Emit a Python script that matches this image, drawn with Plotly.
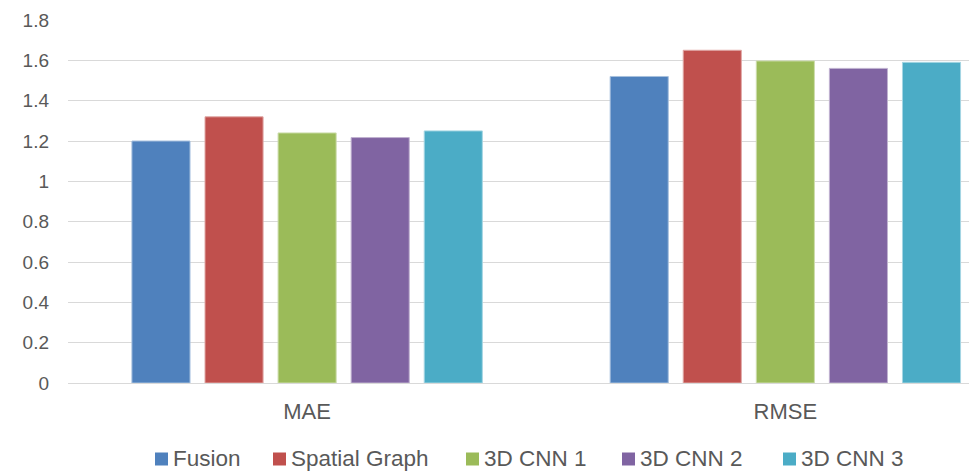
import plotly.graph_objects as go

metrics = ["MAE", "RMSE"]
series_names = ["Fusion", "Spatial Graph", "3D CNN 1", "3D CNN 2", "3D CNN 3"]
fusion = [1.20, 1.52]
spatial_graph = [1.32, 1.65]
cnn_1 = [1.24, 1.597]
cnn_2 = [1.217, 1.56]
cnn_3 = [1.25, 1.59]
y_ticks = [0, 0.2, 0.4, 0.6, 0.8, 1, 1.2, 1.4, 1.6, 1.8]
y_tick_labels = ["0", "0.2", "0.4", "0.6", "0.8", "1", "1.2", "1.4", "1.6", "1.8"]

colors = ["#4F81BD", "#C0504D", "#9BBB59", "#8064A2", "#4BACC6"]
outlines = ["#A7C0DE", "#E0A8A6", "#CDDDAC", "#C0B2D1", "#A5D6E3"]
values = [fusion, spatial_graph, cnn_1, cnn_2, cnn_3]

W, H = 969, 473
ML, MR, MT, MB = 68, 0, 20, 90
font = "Liberation Sans, Arial, sans-serif"
text_color = "#595959"

fig = go.Figure()
for name, vals, c, oc in zip(series_names, values, colors, outlines):
    fig.add_trace(go.Bar(
        x=metrics, y=vals, name=name,
        marker=dict(color=c, line=dict(color=oc, width=1)),
    ))

# Legend row drawn below the plot: a colour swatch followed by its label
def px_x(p):
    return (p - ML) / (W - ML - MR)

def px_y(p):
    return (H - MB - p) / (H - MT - MB)

swatch_left = [155, 273, 466, 622, 783]
swatch = 13
swatch_mid = 459
shapes = []
annotations = []
for name, c, left in zip(series_names, colors, swatch_left):
    shapes.append(dict(
        type="rect", xref="paper", yref="paper",
        x0=px_x(left), x1=px_x(left + swatch),
        y0=px_y(swatch_mid + swatch / 2), y1=px_y(swatch_mid - swatch / 2),
        fillcolor=c, line=dict(width=0),
    ))
    annotations.append(dict(
        text=name, xref="paper", yref="paper",
        x=px_x(left + swatch + 3), y=px_y(H),
        xanchor="left", yanchor="bottom", showarrow=False,
        font=dict(family=font, size=22.5, color=text_color),
    ))

fig.update_layout(
    width=W, height=H,
    margin=dict(l=ML, r=MR, t=MT, b=MB, autoexpand=False),
    paper_bgcolor="white", plot_bgcolor="white",
    barmode="group", bargap=0.236, bargroupgap=0.205,
    font=dict(family=font, size=19, color=text_color),
    showlegend=False,
    shapes=shapes,
    annotations=annotations,
    xaxis=dict(
        type="category", range=[-0.5, 1.384],
        showgrid=False, showline=True, linecolor="#D9D9D9", linewidth=1,
        ticks="", ticklabelstandoff=9,
        tickfont=dict(size=22, color=text_color),
    ),
    yaxis=dict(
        range=[0, 1.8], tickvals=y_ticks, ticktext=y_tick_labels,
        showgrid=True, gridcolor="#D9D9D9", gridwidth=1,
        zeroline=False, showline=False, ticks="",
        ticklabelstandoff=18,
        tickfont=dict(size=19, color=text_color),
    ),
)

fig.write_html("out.html")
